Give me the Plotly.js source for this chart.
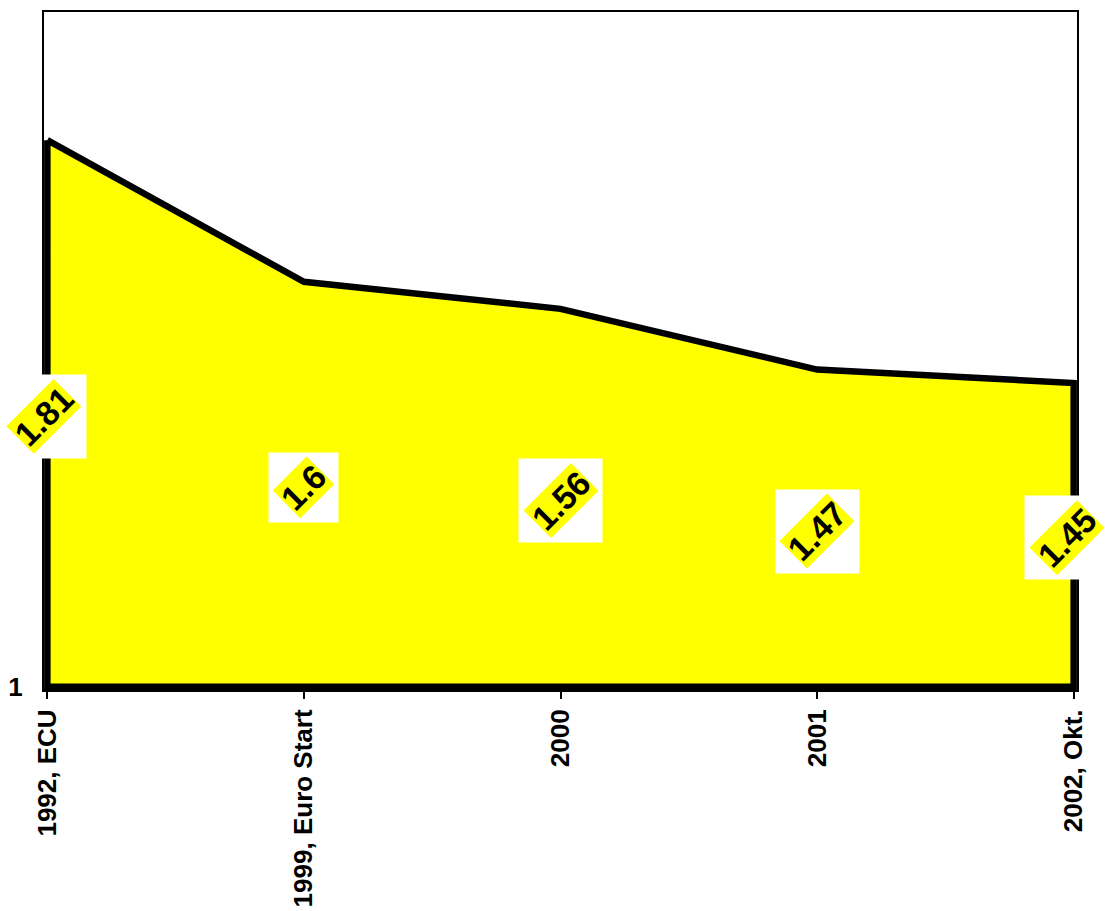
<!DOCTYPE html>
<html>
<head>
<meta charset="utf-8">
<script src="https://cdn.plot.ly/plotly-3.0.1.min.js"></script>
<style>html,body{margin:0;padding:0;background:#fff;}#chart{width:1105px;height:911px;}</style>
</head>
<body>
<div id="chart"></div>
<script>
const categories = ["1992, ECU", "1999, Euro Start", "2000", "2001", "2002, Okt."];
const values = [1.81, 1.6, 1.56, 1.47, 1.45];
const labels = ["1.81", "1.6", "1.56", "1.47", "1.45"];
const baseValue = 1;
const yTickVals = [1];
const yTickText = ["1"];

const FONT = "Liberation Sans, Arial, sans-serif";

// closed polygon: top edge through the data, back along the base
const polyX = categories.concat([categories[categories.length - 1], categories[0], categories[0]]);
const polyY = values.concat([baseValue, baseValue, values[0]]);

const area = {
  type: "scatter",
  mode: "lines",
  x: polyX,
  y: polyY,
  fill: "toself",
  fillcolor: "#FFFF00",
  line: {color: "#000000", width: 6.5, shape: "linear"},
  hoverinfo: "skip",
  showlegend: false
};

const annotations = [];
categories.forEach((c, i) => {
  const mid = (values[i] + baseValue) / 2;
  const size = labels[i].length >= 4 ? 83 : 69;
  const shift = i === 0 ? -3 : (i === categories.length - 1 ? -7 : 0);
  annotations.push({
    x: i, y: mid, xref: "x", yref: "y",
    text: "&nbsp;", showarrow: false,
    width: size, height: size, xshift: shift, yshift: -3,
    bgcolor: "#FFFFFF", borderpad: 0,
    font: {size: 4, family: FONT}
  });
  annotations.push({
    x: i, y: mid, xref: "x", yref: "y",
    text: labels[i], showarrow: false,
    textangle: -45, xshift: shift, yshift: -3,
    bgcolor: "#FFFF00", borderpad: 0,
    font: {size: 34, family: FONT, color: "#000000", weight: "bold"}
  });
});

const layout = {
  width: 1105,
  height: 911,
  margin: {l: 44, r: 28, t: 12, b: 221},
  paper_bgcolor: "#FFFFFF",
  plot_bgcolor: "#FFFFFF",
  showlegend: false,
  xaxis: {
    type: "category",
    categoryorder: "array",
    categoryarray: categories,
    range: [-0.013, categories.length - 1 + 0.013],
    showgrid: false,
    zeroline: false,
    showline: true,
    mirror: true,
    linecolor: "#000000",
    linewidth: 2,
    ticks: "outside",
    ticklen: 7,
    tickwidth: 2,
    tickcolor: "#000000",
    tickangle: -90,
    tickfont: {size: 26, family: FONT, color: "#000000", weight: "bold"}
  },
  yaxis: {
    range: [0.995, 2],
    showgrid: false,
    zeroline: false,
    showline: true,
    mirror: true,
    linecolor: "#000000",
    linewidth: 2,
    ticks: "",
    tickvals: yTickVals,
    ticktext: yTickText,
    ticklabelstandoff: 14,
    tickfont: {size: 26, family: FONT, color: "#000000", weight: "bold"}
  },
  annotations: annotations
};

Plotly.newPlot("chart", [area], layout, {displayModeBar: false, staticPlot: true});
</script>
</body>
</html>
